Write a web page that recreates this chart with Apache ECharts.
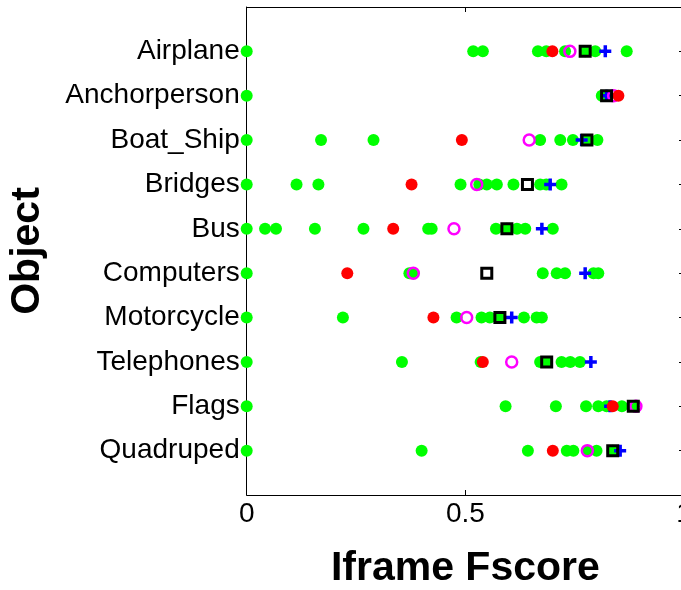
<!DOCTYPE html>
<html>
<head>
<meta charset="utf-8">
<script src="https://cdn.jsdelivr.net/npm/echarts@6/dist/echarts.min.js"></script>
<style>
html,body{margin:0;padding:0;background:#fff;}
#chart{width:681px;height:590px;}
</style>
</head>
<body>
<div id="chart"></div>
<script>
var categories = ['Airplane','Anchorperson','Boat_Ship','Bridges','Bus','Computers','Motorcycle','Telephones','Flags','Quadruped'];
var xTicks = [0, 0.5, 1];
var greenScores = [
  [0, 0.518, 0.540, 0.666, 0.685, 0.728, 0.774, 0.797, 0.869],
  [0, 0.812, 0.823],
  [0, 0.170, 0.290, 0.671, 0.717, 0.746, 0.778, 0.802],
  [0, 0.114, 0.164, 0.489, 0.532, 0.549, 0.572, 0.610, 0.671, 0.685, 0.720],
  [0, 0.042, 0.067, 0.156, 0.267, 0.415, 0.423, 0.570, 0.595, 0.618, 0.637, 0.700],
  [0, 0.372, 0.381, 0.677, 0.709, 0.728, 0.793, 0.804],
  [0, 0.220, 0.480, 0.537, 0.556, 0.579, 0.634, 0.663, 0.675],
  [0, 0.355, 0.535, 0.671, 0.686, 0.720, 0.740, 0.762],
  [0, 0.592, 0.707, 0.776, 0.804, 0.823, 0.858, 0.884],
  [0, 0.400, 0.643, 0.732, 0.747, 0.779, 0.800, 0.837]
];
var redScores     = [0.699, 0.850, 0.492, 0.377, 0.335, 0.230, 0.427, 0.540, 0.837, 0.700];
var magentaScores = [0.739, 0.839, 0.646, 0.526, 0.474, 0.381, 0.503, 0.606, 0.890, 0.779];
var blackScores   = [0.774, 0.823, 0.778, 0.642, 0.595, 0.549, 0.579, 0.686, 0.884, 0.837];
var blueScores    = [0.820, 0.823, 0.766, 0.694, 0.675, 0.774, 0.606, 0.787, 0.831, 0.854];

var axisCats = [''].concat(categories).concat(['']);
var FONT = "'Liberation Sans', Arial, Helvetica, sans-serif";

function single(arr){ return arr.map(function(v,i){ return [v, categories[i]]; }); }
var greenData = [];
greenScores.forEach(function(list,i){ list.forEach(function(v){ greenData.push([v, categories[i]]); }); });

var chart = echarts.init(document.getElementById('chart'), null, {renderer:'canvas'});
var tickFn = function(i, v){ return v !== ''; };
var option = {
  backgroundColor: '#fff',
  animation: false,
  grid: { left: 246.7, top: 7, width: 437.3, height: 488, containLabel: false, outerBoundsMode: 'none' },
  xAxis: [{
    type: 'value', min: 0, max: 1, interval: 0.5,
    axisLine: { show: true, onZero: false, lineStyle: { color: '#000', width: 1 } },
    axisTick: { show: true, inside: true, length: 5, lineStyle: { color: '#000' } },
    splitLine: { show: false },
    axisLabel: { color: '#000', fontSize: 28, fontFamily: FONT, margin: 5, hideOverlap: false,
      formatter: function(v){ return xTicks.indexOf(v) >= 0 ? String(v) : ''; } },
    name: 'Iframe Fscore', nameLocation: 'middle', nameGap: 53,
    nameTextStyle: { color: '#000', fontSize: 41, fontWeight: 'bold', fontFamily: FONT }
  }, {
    type: 'value', min: 0, max: 1, interval: 0.5, position: 'top',
    axisLine: { show: true, onZero: false, lineStyle: { color: '#000', width: 1 } },
    axisTick: { show: true, inside: true, length: 5, lineStyle: { color: '#000' } },
    splitLine: { show: false }, axisLabel: { show: false }
  }],
  yAxis: [{
    type: 'category', data: axisCats, inverse: true, boundaryGap: false,
    axisLine: { show: true, onZero: false, lineStyle: { color: '#000', width: 1 } },
    axisTick: { show: true, inside: true, length: 5, interval: tickFn, lineStyle: { color: '#000' } },
    splitLine: { show: false },
    axisLabel: { interval: 0, color: '#000', fontSize: 28, fontFamily: FONT, margin: 7 },
    name: 'Object', nameLocation: 'middle', nameRotate: 90, nameGap: 199,
    nameTextStyle: { color: '#000', fontSize: 41, fontWeight: 'bold', fontFamily: FONT }
  }, {
    type: 'category', data: axisCats, inverse: true, boundaryGap: false, position: 'right',
    axisLine: { show: true, onZero: false, lineStyle: { color: '#000', width: 1 } },
    axisTick: { show: true, inside: true, length: 5, interval: tickFn, lineStyle: { color: '#000' } },
    splitLine: { show: false }, axisLabel: { show: false }
  }],
  series: [
    { type: 'scatter', data: greenData, symbol: 'circle', symbolSize: 12, clip: false,
      itemStyle: { color: '#00ff00', opacity: 1 }, z: 2 },
    { type: 'scatter', data: single(blueScores), clip: false,
      symbol: 'path://M4.25,0H7.75V4.25H12V7.75H7.75V12H4.25V7.75H0V4.25H4.25Z', symbolSize: 12,
      itemStyle: { color: '#0000ff', opacity: 1 }, z: 3 },
    { type: 'scatter', data: single(magentaScores), symbol: 'circle', symbolSize: 11, clip: false,
      itemStyle: { color: 'rgba(0,0,0,0)', borderColor: '#ff00ff', borderWidth: 2.5, opacity: 1 }, z: 4 },
    { type: 'scatter', data: single(redScores), symbol: 'circle', symbolSize: 12, clip: false,
      itemStyle: { color: '#ff0000', opacity: 1 }, z: 5 },
    { type: 'scatter', data: single(blackScores), symbol: 'rect', symbolSize: 10, clip: false,
      itemStyle: { color: 'rgba(0,0,0,0)', borderColor: '#000', borderWidth: 3, opacity: 1 }, z: 6 }
  ]
};
chart.setOption(option);
</script>
</body>
</html>
